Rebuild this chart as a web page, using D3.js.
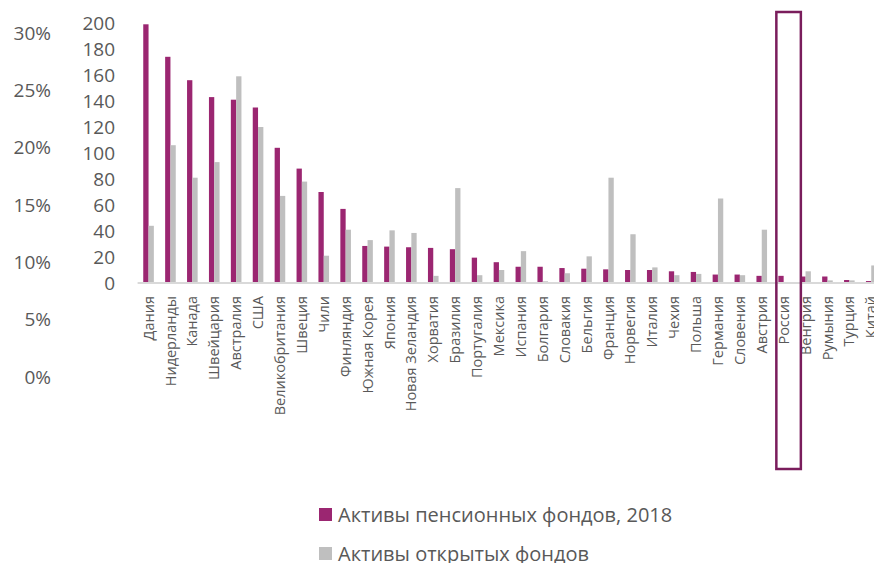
<!DOCTYPE html>
<html>
<head>
<meta charset="utf-8">
<script src="https://cdn.jsdelivr.net/npm/d3@7"></script>
<style>
  html, body { margin: 0; padding: 0; background: #fff; }
  svg { display: block; font-family: "Open Sans", "Noto Sans", sans-serif; }
</style>
</head>
<body>
<svg id="chart" width="874" height="563"></svg>
<script>
// Countries, ordered by pension fund assets
const countries = ["Дания","Нидерланды","Канада","Швейцария","Австралия","США","Великобритания","Швеция","Чили","Финляндия","Южная Корея","Япония","Новая Зеландия","Хорватия","Бразилия","Португалия","Мексика","Испания","Болгария","Словакия","Бельгия","Франция","Норвегия","Италия","Чехия","Польша","Германия","Словения","Австрия","Россия","Венгрия","Румыния","Турция","Китай"];

// Pension fund assets, 2018
const pensionAssets = [199,174,156,143,141,135,104,88,70,57,28.5,28,27.5,27,26,19.5,16,12.5,12.5,11.5,11,10.5,10,10,9,8.5,6.5,6.5,5.5,5.5,5,5,2.3,1.5];

// Open fund assets
const openFundAssets = [44,106,81,93,159,120,67,78,21,41,33,40.5,38.5,5.5,73,6,10,24.5,1.3,7.5,20.5,81,37.5,12,6,7,65,6,41,0,9,2,2,13.5];

const valueTicks = [0,20,40,60,80,100,120,140,160,180,200];
const percentTicks = ["30%","25%","20%","15%","10%","5%","0%"];

const seriesNames = ["Активы пенсионных фондов, 2018","Активы открытых фондов"];
const highlighted = "Россия";

const colors = { pension: "#9b2671", open: "#bfbfbf", text: "#595959", axis: "#d9d9d9", frame: "#7a1d5c" };

const svg = d3.select("#chart");

const x = d3.scaleBand().domain(countries).range([137.6, 137.6 + 21.9 * countries.length]);
const y = d3.scaleLinear().domain([0, 200]).range([283, 23]);
const barW = 5.3;

// Percent scale drawn on the far left
const yPct = d3.scalePoint().domain(percentTicks).range([33, 377]);
svg.append("g")
  .attr("transform", "translate(51,0)")
  .call(d3.axisLeft(yPct).tickSize(0).tickPadding(0))
  .call(g => g.select(".domain").remove())
  .selectAll("text")
  .attr("fill", colors.text)
  .attr("font-size", 19)
  .attr("font-family", "'Open Sans', sans-serif");

// Value axis
svg.append("g")
  .attr("transform", "translate(115,0)")
  .call(d3.axisLeft(y).tickValues(valueTicks).tickSize(0).tickPadding(0))
  .call(g => g.select(".domain").remove())
  .selectAll("text")
  .attr("fill", colors.text)
  .attr("font-size", 19)
  .attr("font-family", "'Open Sans', sans-serif");

// Bars
const groups = svg.append("g").selectAll("g")
  .data(countries)
  .join("g")
  .attr("transform", d => `translate(${x(d) + x.bandwidth() / 2},0)`);

groups.append("rect")
  .attr("x", -barW)
  .attr("width", barW)
  .attr("y", (d, i) => y(pensionAssets[i]))
  .attr("height", (d, i) => y(0) - y(pensionAssets[i]))
  .attr("fill", colors.pension);

groups.append("rect")
  .attr("x", 0)
  .attr("width", barW)
  .attr("y", (d, i) => y(openFundAssets[i]))
  .attr("height", (d, i) => y(0) - y(openFundAssets[i]))
  .attr("fill", colors.open);

// Baseline
svg.append("line")
  .attr("x1", x.range()[0]).attr("x2", x.range()[1])
  .attr("y1", y(0)).attr("y2", y(0))
  .attr("stroke", colors.axis).attr("stroke-width", 2);

// Category labels
groups.append("text")
  .attr("transform", "translate(0,296) rotate(-90)")
  .attr("text-anchor", "end")
  .attr("dy", "0.35em")
  .attr("font-size", 14.5)
  .attr("fill", colors.text)
  .text(d => d);

// Highlight frame
const hx = x(highlighted) + x.bandwidth() / 2;
svg.append("rect")
  .attr("x", hx - 7.3)
  .attr("y", 12)
  .attr("width", 24.5)
  .attr("height", 457)
  .attr("fill", "none")
  .attr("stroke", colors.frame)
  .attr("stroke-width", 2.5);

// Legend
const legend = svg.append("g").selectAll("g")
  .data(seriesNames)
  .join("g")
  .attr("transform", (d, i) => `translate(319,${508 + i * 39})`);
legend.append("rect")
  .attr("width", 13).attr("height", 13)
  .attr("fill", (d, i) => i === 0 ? colors.pension : colors.open);
legend.append("text")
  .attr("x", 19).attr("y", 6.5).attr("dy", "0.35em")
  .attr("font-size", 20)
  .attr("fill", colors.text)
  .text(d => d);
</script>
</body>
</html>
